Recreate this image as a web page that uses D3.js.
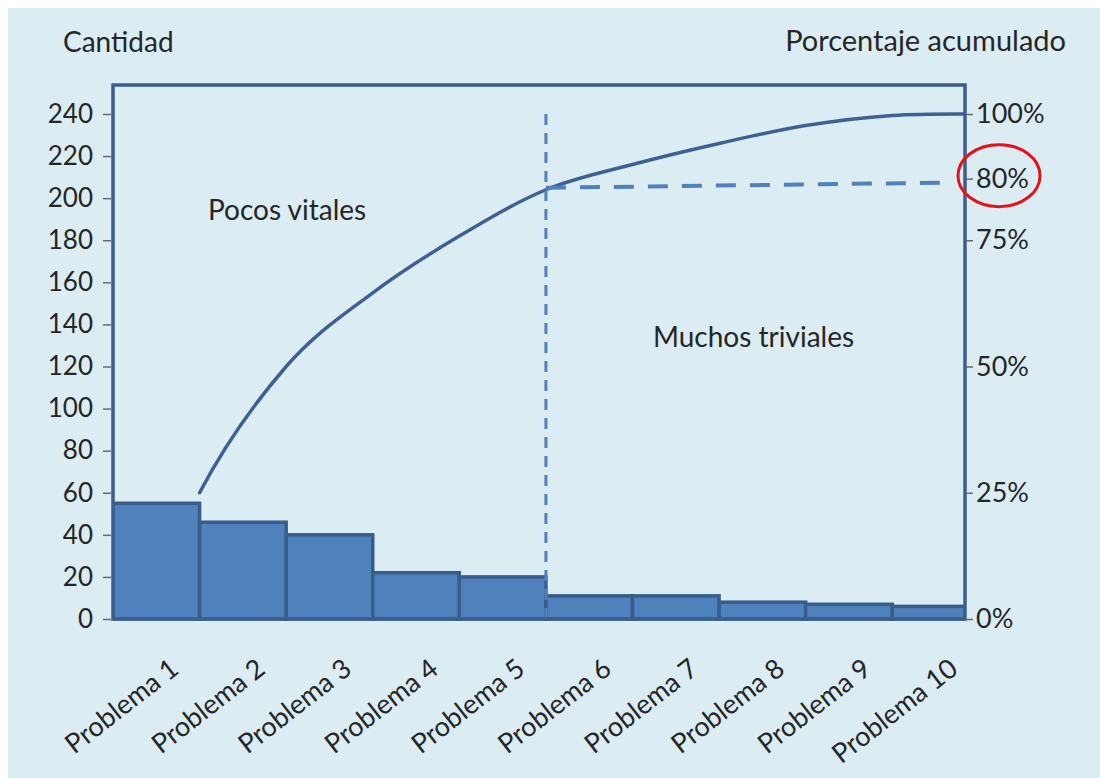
<!DOCTYPE html>
<html>
<head>
<meta charset="utf-8">
<script src="https://cdn.jsdelivr.net/npm/d3@7"></script>
<style>
  html, body { margin: 0; padding: 0; background: #ffffff; }
  svg { display: block; }
  text { font-family: Lato, "Noto Sans", sans-serif; fill: #262626; }
</style>
</head>
<body>
<svg id="chart" width="1100" height="778"></svg>
<script>
// Pareto data: problem categories, counts and running total (same units as counts)
const categories = ["Problema 1", "Problema 2", "Problema 3", "Problema 4", "Problema 5",
                    "Problema 6", "Problema 7", "Problema 8", "Problema 9", "Problema 10"];
const quantities = [55, 46, 40, 22, 20, 11, 11, 8, 7, 6];
const cumulative = [60, 120, 155, 182, 204, 216, 226, 234.5, 239.3, 240];

// Axis ticks
const countTicks = [0, 20, 40, 60, 80, 100, 120, 140, 160, 180, 200, 220, 240];
const shareTicks = [0, 0.25, 0.5, 0.75, 0.8, 1];
const shareTickLabels = ["0%", "25%", "50%", "75%", "80%", "100%"];

// Annotations
const titleLeft = "Cantidad";
const titleRight = "Porcentaje acumulado";
const regionLabels = ["Pocos vitales", "Muchos triviales"];
const cutIndex = 4;          // last category of the "vital few"
const countMax = 240;

// ---- layout ----
const W = 1100, H = 778;
const plot = { left: 113, right: 965, top: 85, bottom: 619, countTop: 114 };
const colors = {
  bg: "#dbedf3", frame: "#3b5e8c", bar: "#4f81bd", barStroke: "#385d8a",
  line: "#3d6193", dash: "#4f81bd", tick: "#6a6a6a", ring: "#e8101a"
};
const fontStack = "Lato, 'Noto Sans', sans-serif";

// Smooth cubic curve for evenly spaced points: central-difference tangents inside,
// one-sided cubic tangents at the ends (clamped so the curve never turns back)
function curveSmooth(context) {
  let pts = [];
  return {
    areaStart() {}, areaEnd() {},
    lineStart() { pts = []; },
    point(px, py) { pts.push([+px, +py]); },
    lineEnd() {
      const n = pts.length;
      if (!n) return;
      context.moveTo(pts[0][0], pts[0][1]);
      if (n === 1) return;
      const h = pts[1][0] - pts[0][0];
      const Y = pts.map(p => p[1]);
      const s = [];
      for (let i = 0; i < n - 1; i++) s.push((Y[i + 1] - Y[i]) / h);
      const m = new Array(n);
      for (let i = 1; i < n - 1; i++) m[i] = (s[i - 1] + s[i]) / 2;
      if (n < 4) {
        m[0] = s[0]; m[n - 1] = s[n - 2];
        if (n === 3) { m[0] = 2 * s[0] - m[1]; m[2] = 2 * s[1] - m[1]; }
      } else {
        m[0] = (-11 * Y[0] + 18 * Y[1] - 9 * Y[2] + 2 * Y[3]) / (6 * h);
        m[n - 1] = (11 * Y[n - 1] - 18 * Y[n - 2] + 9 * Y[n - 3] - 2 * Y[n - 4]) / (6 * h);
      }
      if (m[0] * s[0] < 0) m[0] = 0;
      if (m[n - 1] * s[n - 2] < 0) m[n - 1] = 0;
      for (let i = 0; i < n - 1; i++) {
        const [x0, y0] = pts[i], [x1, y1] = pts[i + 1];
        const k = (x1 - x0) / 3;
        context.bezierCurveTo(x0 + k, y0 + m[i] * k, x1 - k, y1 - m[i + 1] * k, x1, y1);
      }
    }
  };
}

const svg = d3.select("#chart");

svg.append("rect").attr("x", 8).attr("y", 8).attr("width", W - 8).attr("height", H - 8)
  .attr("fill", colors.bg);

// scales
const x = d3.scaleBand().domain(categories)
  .range([plot.left, plot.left + (plot.right - plot.left) * 10 / 9.84])
  .paddingInner(0).paddingOuter(0);
const y = d3.scaleLinear().domain([0, countMax]).range([plot.bottom, plot.countTop]);
const shareLinear = d3.scaleLinear().domain([0, 1]).range([plot.bottom, plot.countTop]);
// the 80% mark sits on the level where the curve reaches the cut
const share = d3.scaleLinear().domain(shareTicks)
  .range([shareLinear(0), shareLinear(0.25), shareLinear(0.5), shareLinear(0.75),
          shareLinear(0.872), shareLinear(1)]);

svg.append("clipPath").attr("id", "plotClip").append("rect")
  .attr("x", plot.left).attr("y", 0)
  .attr("width", plot.right - plot.left).attr("height", plot.bottom + 4);

const inner = svg.append("g").attr("clip-path", "url(#plotClip)");

// bars
inner.selectAll("rect.bar").data(quantities).join("rect")
  .attr("class", "bar")
  .attr("x", (d, i) => x(categories[i]))
  .attr("y", d => y(d))
  .attr("width", x.bandwidth())
  .attr("height", d => y(0) - y(d))
  .attr("fill", colors.bar)
  .attr("stroke", colors.barStroke)
  .attr("stroke-width", 3.5);

// cumulative curve through the right edge of each bar
const line = d3.line()
  .x((d, i) => x(categories[i]) + x.bandwidth())
  .y(d => y(d))
  .curve(curveSmooth);
inner.append("path").datum(cumulative)
  .attr("d", line)
  .attr("fill", "none")
  .attr("stroke", colors.line)
  .attr("stroke-width", 3.5)
  .attr("stroke-linecap", "round");

// cut between vital few and trivial many
const cutX = x(categories[cutIndex]) + x.bandwidth();
svg.append("line")
  .attr("x1", cutX).attr("x2", cutX)
  .attr("y1", y(0)).attr("y2", y(countMax) - 4)
  .attr("stroke", colors.dash).attr("stroke-width", 3)
  .attr("stroke-dasharray", "11,8");
svg.append("line")
  .attr("x1", cutX).attr("y1", y(cumulative[cutIndex]) - 2)
  .attr("x2", plot.right - 18).attr("y2", share(0.8) + 4)
  .attr("stroke", colors.dash).attr("stroke-width", 4)
  .attr("stroke-dasharray", "20,14");

// frame
svg.append("rect")
  .attr("x", plot.left).attr("y", plot.top)
  .attr("width", plot.right - plot.left).attr("height", plot.bottom - plot.top)
  .attr("fill", "none").attr("stroke", colors.frame).attr("stroke-width", 3.5);

// left axis
const gLeft = svg.append("g").attr("transform", `translate(${plot.left - 2},0)`)
  .call(d3.axisLeft(y).tickValues(countTicks).tickSize(8).tickPadding(10));
gLeft.select(".domain").remove();
gLeft.selectAll(".tick line").attr("stroke", colors.tick).attr("stroke-width", 1.5);
gLeft.selectAll(".tick text").style("font-size", "26px").attr("fill", "#262626")
  .style("font-family", fontStack);

// right axis
const gRight = svg.append("g").attr("transform", `translate(${plot.right + 1},0)`)
  .call(d3.axisRight(share).tickValues(shareTicks).tickSize(7).tickPadding(3)
    .tickFormat((d, i) => shareTickLabels[i]));
gRight.select(".domain").remove();
gRight.selectAll(".tick line").attr("stroke", colors.tick).attr("stroke-width", 1.5);
gRight.selectAll(".tick text").style("font-size", "27px").attr("fill", "#262626")
  .style("font-family", fontStack);

// highlight ring around the 80% label
svg.append("ellipse")
  .attr("cx", plot.right + 34).attr("cy", share(0.8) - 3)
  .attr("rx", 41).attr("ry", 31)
  .attr("fill", "none").attr("stroke", colors.ring).attr("stroke-width", 3);

// category labels, rotated
svg.append("g").selectAll("text").data(categories).join("text")
  .attr("transform", d => `translate(${x(d) + x.bandwidth() / 2 + 24},${plot.bottom + 53}) rotate(-38)`)
  .attr("text-anchor", "end")
  .style("font-size", "27px")
  .text(d => d);

// titles
svg.append("text").attr("x", 63).attr("y", 52).style("font-size", "28px").text(titleLeft);
svg.append("text").attr("x", 1066).attr("y", 51).attr("text-anchor", "end")
  .style("font-size", "29px").text(titleRight);

// region labels
svg.append("text").attr("x", 208).attr("y", 220).style("font-size", "28px").text(regionLabels[0]);
svg.append("text").attr("x", 653).attr("y", 347).style("font-size", "28px").text(regionLabels[1]);
</script>
</body>
</html>
